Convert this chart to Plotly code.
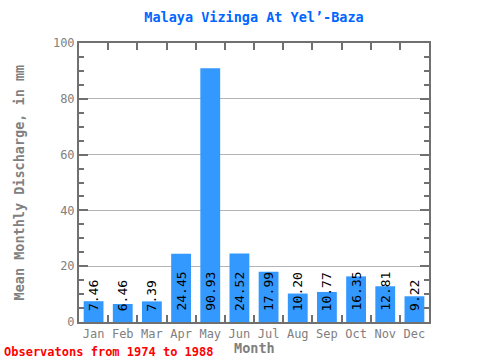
import plotly.graph_objects as go

months = ["Jan", "Feb", "Mar", "Apr", "May", "Jun", "Jul", "Aug", "Sep", "Oct", "Nov", "Dec"]
discharge = [7.46, 6.46, 7.39, 24.45, 90.93, 24.52, 17.99, 10.20, 10.77, 16.35, 12.81, 9.22]
labels = ["7.46", "6.46", "7.39", "24.45", "90.93", "24.52", "17.99", "10.20", "10.77", "16.35", "12.81", "9.22"]

MONO = "DejaVu Sans Mono, Liberation Mono, monospace"
AX = "#707070"
GRAY = "#808080"

fig = go.Figure()
fig.add_trace(go.Bar(
    x=months, y=discharge, width=0.68,
    marker=dict(color="#3399ff", line=dict(width=0)),
))

annotations = []
for m, lab in zip(months, labels):
    annotations.append(dict(
        x=m, y=0, xref="x", yref="y", text=lab, textangle=-90,
        xanchor="center", yanchor="bottom", yshift=9, showarrow=False,
        font=dict(family=MONO, size=13, color="black"),
    ))
annotations += [
    dict(text="<b>Observatons from 1974 to 1988</b>", xref="paper", yref="paper",
         x=0, xshift=-77, y=0, yshift=-30, xanchor="left", yanchor="middle",
         showarrow=False, font=dict(family=MONO, size=12, color="#ff0000")),
    dict(text="<b>Month</b>", xref="paper", yref="paper", x=0.5, y=0, yshift=-26,
         xanchor="center", yanchor="middle", showarrow=False,
         font=dict(family=MONO, size=13.5, color=GRAY)),
    dict(text="<b>Mean Monthly Discharge, in mm</b>", xref="paper", yref="paper",
         x=0, xshift=-61, y=0.5, xanchor="center", yanchor="middle", textangle=-90,
         showarrow=False, font=dict(family=MONO, size=13.5, color=GRAY)),
]

fig.update_layout(
    width=480, height=360,
    margin=dict(l=79, r=51, t=43, b=38),
    plot_bgcolor="white", paper_bgcolor="white",
    showlegend=False,
    title=dict(text="<b>Malaya Vizinga At Yel\u2019-Baza</b>", xref="paper", x=0.5,
               xanchor="center", yref="container", y=1 - 17 / 360, yanchor="middle",
               font=dict(family=MONO, size=13.5, color="#0066ff")),
    xaxis=dict(
        range=[-0.5, 11.5], tickson="boundaries", ticks="inside", ticklen=7,
        tickwidth=2, tickcolor=AX, showline=True, linewidth=2, linecolor=AX,
        mirror="ticks", showgrid=False, tickangle=0, automargin=False,
        tickfont=dict(family=MONO, size=12, color=GRAY),
    ),
    yaxis=dict(
        range=[0, 100], tickmode="linear", tick0=0, dtick=20, ticks="inside",
        ticklen=9, tickwidth=2, tickcolor=AX, showline=True, linewidth=2,
        linecolor=AX, mirror="ticks", showgrid=True, gridcolor="#b4b4b4", gridwidth=1,
        zeroline=False, automargin=False,
        minor=dict(dtick=5, ticks="inside", ticklen=5, tickwidth=2, tickcolor=AX, showgrid=False),
        tickfont=dict(family=MONO, size=12, color=GRAY),
    ),
    annotations=annotations,
)

fig.write_html("out.html", config={"displayModeBar": False},
               post_script="document.body.style.margin='0px';document.body.style.overflow='hidden';")
